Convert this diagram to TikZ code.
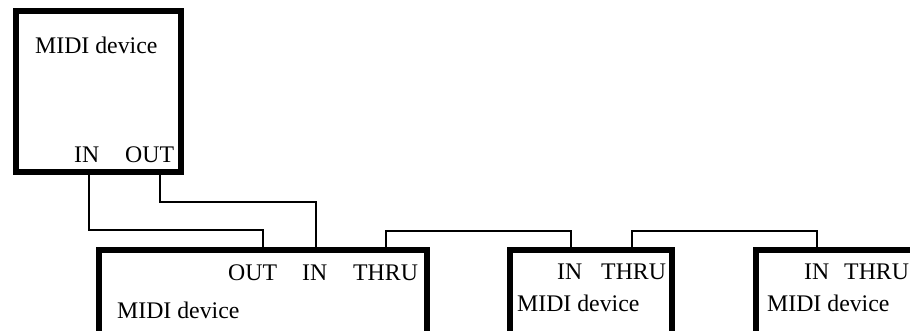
\documentclass[tikz,border=0pt]{standalone}
\usepackage{fontspec}
\setmainfont{Liberation Serif}
\begin{document}
\begin{tikzpicture}[x=1pt,y=-1pt,
  devbox/.style={draw=black,line width=6.5pt},
  wire/.style={draw=black,line width=1.4pt},
  lbl/.style={anchor=base west,inner sep=0pt,font=\fontsize{23.8}{28}\selectfont}]
\useasboundingbox (0,0) rectangle (910,330);
\clip (0,0) rectangle (910,330);

% device frames
\draw[devbox] (16,11) rectangle (181,172);
\draw[devbox] (99,250) rectangle (427,340);
\draw[devbox] (510,250) rectangle (672,340);
\draw[devbox] (756,250) rectangle (930,340);

% labels
\node[lbl] (tname) at (35,53) {MIDI device};
\node[lbl] (tinl) at (74,162) {IN};
\node[lbl] (toutl) at (125,162) {OUT};

\node[lbl] (aoutl) at (228,280) {OUT};
\node[lbl] (ainl) at (302,280) {IN};
\node[lbl] (athrul) at (353,280) {THRU};
\node[lbl] (aname) at (117,318) {MIDI device};

\node[lbl] (binl) at (557,279) {IN};
\node[lbl] (bthrul) at (601,279) {THRU};
\node[lbl] (bname) at (517,311) {MIDI device};

\node[lbl] (cinl) at (804,279) {IN};
\node[lbl] (cthrul) at (844,279) {THRU};
\node[lbl] (cname) at (767,311) {MIDI device};

% port points on the frames
\coordinate (tin) at (89,175);
\coordinate (tout) at (160,175);
\coordinate (aout) at (263,247);
\coordinate (ain) at (316,247);
\coordinate (athru) at (386,247);
\coordinate (bin) at (571,247);
\coordinate (bthru) at (632,247);
\coordinate (cin) at (817,247);

% wiring levels
\coordinate (lvlA) at (0,230);
\coordinate (lvlB) at (0,202);
\coordinate (lvlC) at (0,231);

% cables
\draw[wire] (tin) |- (aout |- lvlA) -- (aout);
\draw[wire] (tout) |- (ain |- lvlB) -- (ain);
\draw[wire] (athru) |- (bin |- lvlC) -- (bin);
\draw[wire] (bthru) |- (cin |- lvlC) -- (cin);
\end{tikzpicture}
\end{document}
